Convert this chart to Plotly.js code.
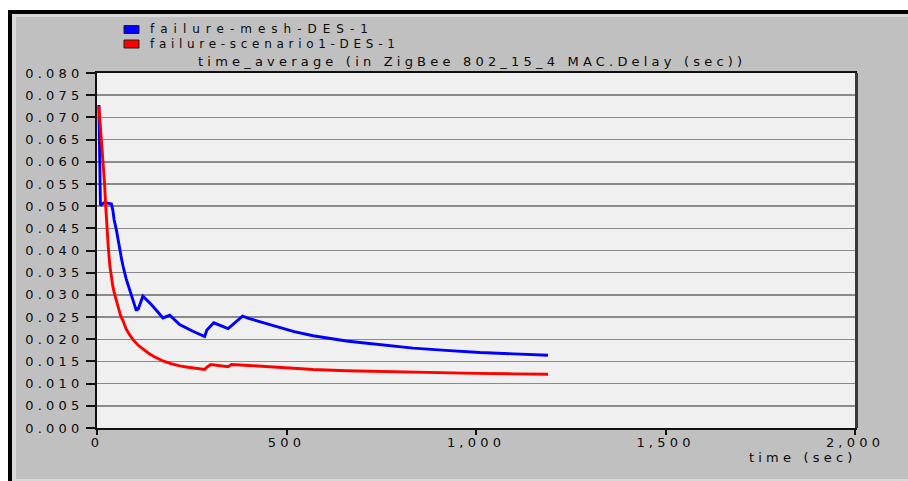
<!DOCTYPE html>
<html>
<head>
<meta charset="utf-8">
<script src="https://cdn.plot.ly/plotly-3.0.1.min.js"></script>
<style>
  html, body { margin:0; padding:0; background:#ffffff; width:908px; height:481px; overflow:hidden; }
  #frame { position:absolute; left:8px; top:10px; width:900px; height:471px; background:#c0c0c0;
           border-left:4px solid #000; border-top:4px solid #000; box-sizing:border-box; }
  #inner { position:absolute; left:0; top:0; right:0; bottom:0;
           border-left:4px solid #d8d8d8; border-top:3px solid #d8d8d8; border-bottom:2px solid #d8d8d8; }
  #chart { position:absolute; left:0; top:0; width:908px; height:481px; }
  svg text { letter-spacing: 4.2px; }
  #chart g.annotation[data-index="0"] text { letter-spacing: 6px; }
  #chart g.annotation[data-index="1"] text { letter-spacing: 4.7px; }
</style>
</head>
<body>
<div id="frame"><div id="inner"></div></div>
<div id="chart"></div>
<script>
// ---- data ----
const seriesNames = ["failure-mesh-DES-1", "failure-scenario1-DES-1"];
const seriesColors = ["#0000ff", "#ff0000"];

const timeMesh  = [5, 9, 20, 38, 42, 45, 51, 56, 60, 65, 69, 77, 86, 93, 98, 104, 106, 108, 121, 139, 160, 174, 192, 218, 253, 284, 290, 308, 346, 384, 400, 420, 450, 482, 520, 570, 610, 658, 700, 750, 834, 920, 1010, 1100, 1190];
const delayMesh = [0.0728, 0.0502, 0.0508, 0.0505, 0.0490, 0.0470, 0.0447, 0.0420, 0.0400, 0.0380, 0.0364, 0.0336, 0.0312, 0.0293, 0.0282, 0.0264, 0.0272, 0.0266, 0.0297, 0.0282, 0.0262, 0.0248, 0.0254, 0.0233, 0.0218, 0.0206, 0.0221, 0.0237, 0.0224, 0.0252, 0.0247, 0.0242, 0.0234, 0.0225, 0.0217, 0.0208, 0.0202, 0.0196, 0.0192, 0.0187, 0.0180, 0.0175, 0.0170, 0.0167, 0.0164];

const timeScen  = [5, 10, 16, 20, 23, 26, 30, 34, 38, 42, 47, 51, 56, 62, 69, 77, 86, 95, 108, 121, 135, 150, 174, 195, 218, 240, 262, 284, 290, 300, 346, 355, 400, 482, 570, 658, 750, 834, 920, 1000, 1100, 1190];
const delayScen = [0.0725, 0.0670, 0.0605, 0.0550, 0.0500, 0.0455, 0.0405, 0.0365, 0.0337, 0.0318, 0.0300, 0.0287, 0.0270, 0.0254, 0.0241, 0.0223, 0.0210, 0.0199, 0.0187, 0.0178, 0.0169, 0.0161, 0.0151, 0.0145, 0.0140, 0.0137, 0.0134, 0.0132, 0.0137, 0.0143, 0.0138, 0.0143, 0.0141, 0.0136, 0.0132, 0.0129, 0.0127, 0.0125, 0.0124, 0.0123, 0.0122, 0.0121];

const xTickVals = [0, 500, 1000, 1500, 2000];
const titleText = "time_average (in ZigBee 802_15_4 MAC.Delay (sec))";
const xTitleText = "time (sec)";

// ---- layout geometry (pixels) ----
const W = 908, H = 481;
const L = 97, R = 855, T = 73, B = 428;
const px2x = p => (p - L) / (R - L);
const py2y = p => (B - p) / (B - T);

const font = { family: "DejaVu Sans, Liberation Sans, Arial, sans-serif", size: 13, color: "#0a0a0a" };
const legendFont = Object.assign({}, font, { size: 12 });

const traces = [
  { x: timeMesh, y: delayMesh, mode: "lines", name: seriesNames[0], line: { color: seriesColors[0], width: 2.9 }, showlegend: false },
  { x: timeScen, y: delayScen, mode: "lines", name: seriesNames[1], line: { color: seriesColors[1], width: 2.9 }, showlegend: false }
];

const shapes = [];
const annotations = [];
const legendRows = [29.5, 44];
seriesNames.forEach((n, i) => {
  const cy = legendRows[i];
  shapes.push({ type: "rect", xref: "paper", yref: "paper",
    x0: px2x(124), x1: px2x(139), y0: py2y(cy + 4), y1: py2y(cy - 4),
    fillcolor: seriesColors[i], line: { color: "#202020", width: 1 } });
  annotations.push({ xref: "paper", yref: "paper", x: px2x(148), y: py2y(cy),
    xanchor: "left", yanchor: "middle", align: "left", showarrow: false, text: n, font: legendFont });
});
annotations.push({ xref: "paper", yref: "paper", x: px2x(747), y: py2y(458),
  xanchor: "left", yanchor: "middle", align: "left", showarrow: false, text: xTitleText, font: font });
// heavier right edge of the plot frame
shapes.push({ type: "line", xref: "paper", yref: "paper", x0: 1.002, x1: 1.002, y0: 0, y1: 1,
  line: { color: "#3a3a3a", width: 3 } });

const layout = {
  width: W, height: H,
  margin: { l: L, r: W - R, t: T, b: H - B, pad: 0 },
  paper_bgcolor: "rgba(0,0,0,0)",
  plot_bgcolor: "#f0f0f0",
  font: font,
  showlegend: false,
  title: { text: titleText, font: font, xref: "paper", x: 0.495, xanchor: "center",
           yref: "container", y: 1 - 61 / H, yanchor: "middle" },
  xaxis: {
    range: [0, 2000], tickvals: xTickVals, tickformat: ",d",
    showgrid: false, zeroline: false,
    showline: true, linecolor: "#111", linewidth: 2, mirror: true,
    ticks: "outside", ticklen: 5, tickwidth: 2, tickcolor: "#111",
    ticklabelstandoff: -4,
    tickfont: font, fixedrange: true
  },
  yaxis: {
    range: [0, 0.08], dtick: 0.005, tick0: 0, tickformat: ".3f",
    showgrid: true, gridcolor: "#8a8a8a", gridwidth: 1.5, zeroline: false,
    showline: true, linecolor: "#111", linewidth: 2, mirror: true,
    ticks: "outside", ticklen: 9, tickwidth: 2, tickcolor: "#111",
    tickfont: font, fixedrange: true
  },
  shapes: shapes,
  annotations: annotations
};

Plotly.newPlot("chart", traces, layout, { staticPlot: true, displayModeBar: false });
</script>
</body>
</html>
